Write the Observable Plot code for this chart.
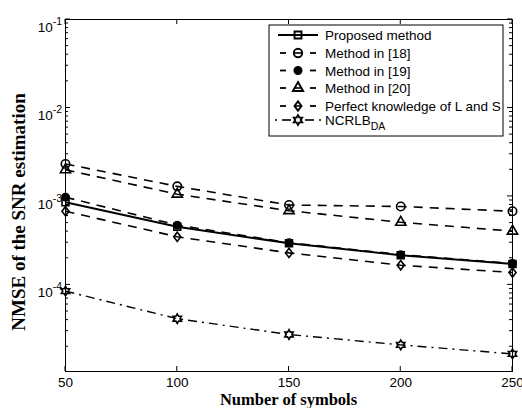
<!DOCTYPE html>
<html>
<head>
<meta charset="utf-8">
<script src="https://cdn.jsdelivr.net/npm/d3@7"></script>
<script src="https://cdn.jsdelivr.net/npm/@observablehq/plot@0.6"></script>
<style>
  body { margin: 0; background: #fff; }
  #chart svg { display: block; }
</style>
</head>
<body>
<div id="chart"></div>
<script>
// Number of symbols used by the estimator
const symbols = [50, 100, 150, 200, 250];

// NMSE of the SNR estimate for each method
const proposed = [8.6e-4, 4.55e-4, 2.95e-4, 2.17e-4, 1.72e-4];
const method18 = [2.33e-3, 1.30e-3, 8.0e-4, 7.7e-4, 6.8e-4];
const method19 = [9.8e-4, 4.75e-4, 3.0e-4, 2.2e-4, 1.75e-4];
const method20 = [2.0e-3, 1.06e-3, 6.9e-4, 5.1e-4, 4.05e-4];
const perfect = [6.8e-4, 3.5e-4, 2.3e-4, 1.67e-4, 1.38e-4];
const ncrlb = [8.5e-5, 4.15e-5, 2.75e-5, 2.1e-5, 1.66e-5];

const seriesNames = ["Proposed method", "Method in [18]", "Method in [19]", "Method in [20]",
  "Perfect knowledge of L and S", "NCRLB"];
const seriesValues = [proposed, method18, method19, method20, perfect, ncrlb];

const xTicks = [50, 100, 150, 200, 250];
const yTicks = [1e-4, 1e-3, 1e-2, 1e-1];

// Marker shapes not provided by d3
const diamond = {
  draw(ctx, size) {
    const r = Math.sqrt(size / Math.PI);
    const w = r * 0.8, h = r * 1.05;
    ctx.moveTo(0, -h); ctx.lineTo(w, 0); ctx.lineTo(0, h); ctx.lineTo(-w, 0); ctx.closePath();
  }
};
const hexagram = {
  draw(ctx, size) {
    const R = Math.sqrt(size / Math.PI), ri = R / Math.sqrt(3);
    for (let k = 0; k < 12; k++) {
      const a = -Math.PI / 2 + k * Math.PI / 6, rr = k % 2 ? ri : R;
      const px = rr * Math.cos(a), py = rr * Math.sin(a);
      if (k) ctx.lineTo(px, py); else ctx.moveTo(px, py);
    }
    ctx.closePath();
  }
};

const DASH = "9,7";
const styles = [
  {dash: null, width: 2, symbol: d3.symbolSquare, r: 3.9, fill: "none"},
  {dash: DASH, width: 1.6, symbol: d3.symbolCircle, r: 4.2, fill: "none"},
  {dash: DASH, width: 1.6, symbol: d3.symbolCircle, r: 3.6, fill: "black"},
  {dash: DASH, width: 1.6, symbol: d3.symbolTriangle, r: 3.8, fill: "none"},
  {dash: DASH, width: 1.6, symbol: diamond, r: 4.4, fill: "none"},
  {dash: "9,5,2,5", width: 1.4, symbol: hexagram, r: 4.8, fill: "none"}
];

const table = seriesNames.map((name, i) =>
  symbols.map((x, j) => ({series: name, x, y: seriesValues[i][j]})));

const marks = [
  Plot.axisX({ticks: xTicks, tickSize: 0, tickPadding: 6, tickFormat: d => String(d), label: null}),
  Plot.axisY({ticks: yTicks, tickSize: 0, tickPadding: 3.5,
    tickFormat: d => `10^${Math.round(Math.log10(d))}`, label: null})
];
table.forEach((rows, i) => {
  const s = styles[i];
  marks.push(Plot.line(rows, {x: "x", y: "y", stroke: "black", strokeWidth: s.width,
    strokeDasharray: s.dash, strokeLinecap: "butt"}));
});
table.forEach((rows, i) => {
  const s = styles[i];
  marks.push(Plot.dot(rows, {x: "x", y: "y", symbol: s.symbol, r: s.r, stroke: "black",
    strokeWidth: 1.6, fill: s.fill}));
});
marks.push(Plot.frame({stroke: "black", strokeWidth: 1}));

const plot = Plot.plot({
  width: 522,
  height: 408,
  marginLeft: 65,
  marginRight: 10,
  marginTop: 19,
  marginBottom: 37,
  x: {domain: [50, 250]},
  y: {type: "log", domain: [1.05e-5, 1e-1]},
  style: {fontFamily: "'Liberation Sans', Arial, sans-serif", fontSize: "13.5px", color: "black", background: "white"},
  marks
});
document.getElementById("chart").appendChild(plot);

const svg = d3.select(plot);
const sx = plot.scale("x"), sy = plot.scale("y");
const fx = sx.apply ? v => sx.apply(v) : d3.scaleLinear(sx.domain, sx.range);
const fy = sy.apply ? v => sy.apply(v) : d3.scaleLog(sy.domain, sy.range);
const [x0, x1] = [fx(50), fx(250)];
const [yb, yt] = [fy(1.05e-5), fy(1e-1)];

// Superscript exponents on the y tick labels
svg.selectAll('g[aria-label="y-axis tick label"] text').each(function () {
  const t = d3.select(this);
  const [base, exp] = t.text().split("^");
  t.text(null).attr("dy", null);
  t.append("tspan").attr("dy", 8).text(base);
  t.append("tspan").attr("dy", -7).attr("font-size", "10.5px").text(exp);
});

// Inward ticks on all four sides
const ticks = svg.append("g").attr("stroke", "black").attr("stroke-width", 1);
xTicks.forEach(v => {
  const x = fx(v);
  ticks.append("line").attr("x1", x).attr("x2", x).attr("y1", yb).attr("y2", yb - 5);
  ticks.append("line").attr("x1", x).attr("x2", x).attr("y1", yt).attr("y2", yt + 5);
});
const minor = [];
for (let e = -5; e < -1; e++) for (let k = 2; k <= 9; k++) minor.push(k * Math.pow(10, e));
yTicks.forEach(v => {
  const y = fy(v);
  ticks.append("line").attr("x1", x0).attr("x2", x0 + 5).attr("y1", y).attr("y2", y);
  ticks.append("line").attr("x1", x1).attr("x2", x1 - 5).attr("y1", y).attr("y2", y);
});
minor.forEach(v => {
  const y = fy(v);
  ticks.append("line").attr("x1", x0).attr("x2", x0 + 3).attr("y1", y).attr("y2", y);
  ticks.append("line").attr("x1", x1).attr("x2", x1 - 3).attr("y1", y).attr("y2", y);
});

// Axis titles
svg.append("text")
  .attr("x", (x0 + x1) / 2).attr("y", 405)
  .attr("text-anchor", "middle")
  .attr("font-family", "'Liberation Serif', 'Times New Roman', serif")
  .attr("font-weight", "bold").attr("font-size", "16.5px")
  .text("Number of symbols");
svg.append("text")
  .attr("transform", "translate(25,212) rotate(-90)")
  .attr("text-anchor", "middle")
  .attr("font-family", "'Liberation Serif', 'Times New Roman', serif")
  .attr("font-weight", "bold").attr("font-size", "19px")
  .text("NMSE of the SNR estimation");

// Legend box in the upper right corner
const lg = svg.append("g").attr("text-anchor", "start");
lg.append("rect").attr("x", 269).attr("y", 25).attr("width", 234).attr("height", 111)
  .attr("fill", "white").attr("stroke", "black").attr("stroke-width", 1);
const rowY = [35, 53, 70.5, 88, 106, 120];
const lx0 = 278, lx1 = 318, lmx = 298, ltx = 325;
seriesNames.forEach((name, i) => {
  const s = styles[i], y = rowY[i];
  const g = lg.append("g").attr("stroke", "black");
  if (i === 0) {
    g.append("line").attr("x1", lx0).attr("x2", lx1).attr("y1", y).attr("y2", y).attr("stroke-width", 2.2);
  } else if (i === 5) {
    g.append("line").attr("x1", 275).attr("x2", 277).attr("y1", y).attr("y2", y).attr("stroke-width", 1.4);
    g.append("line").attr("x1", 282).attr("x2", 291).attr("y1", y).attr("y2", y).attr("stroke-width", 1.6);
    g.append("line").attr("x1", 305).attr("x2", 314).attr("y1", y).attr("y2", y).attr("stroke-width", 1.6);
    g.append("line").attr("x1", 319).attr("x2", 321).attr("y1", y).attr("y2", y).attr("stroke-width", 1.4);
  } else {
    g.append("line").attr("x1", lx0 + 2).attr("x2", lx0 + 8).attr("y1", y).attr("y2", y).attr("stroke-width", 1.8);
    g.append("line").attr("x1", lx1 - 8).attr("x2", lx1 - 2).attr("y1", y).attr("y2", y).attr("stroke-width", 1.8);
  }
  if (s.fill === "none" && i !== 5) {
    g.append("line").attr("x1", lmx - 4).attr("x2", lmx + 4).attr("y1", y).attr("y2", y).attr("stroke-width", 1.6);
  }
  g.append("path")
    .attr("transform", `translate(${lmx},${y})`)
    .attr("d", d3.symbol().type(s.symbol).size(Math.PI * s.r * s.r)())
    .attr("fill", s.fill).attr("stroke-width", 1.9);
  const t = lg.append("text").attr("x", ltx).attr("y", y + 5).attr("text-anchor", "start")
    .attr("font-family", "'Liberation Sans', Arial, sans-serif").attr("font-size", "13.5px");
  t.append("tspan").text(name);
  if (i === 5) t.append("tspan").attr("dy", 5).attr("font-size", "10.5px").text("DA");
});
</script>
</body>
</html>
